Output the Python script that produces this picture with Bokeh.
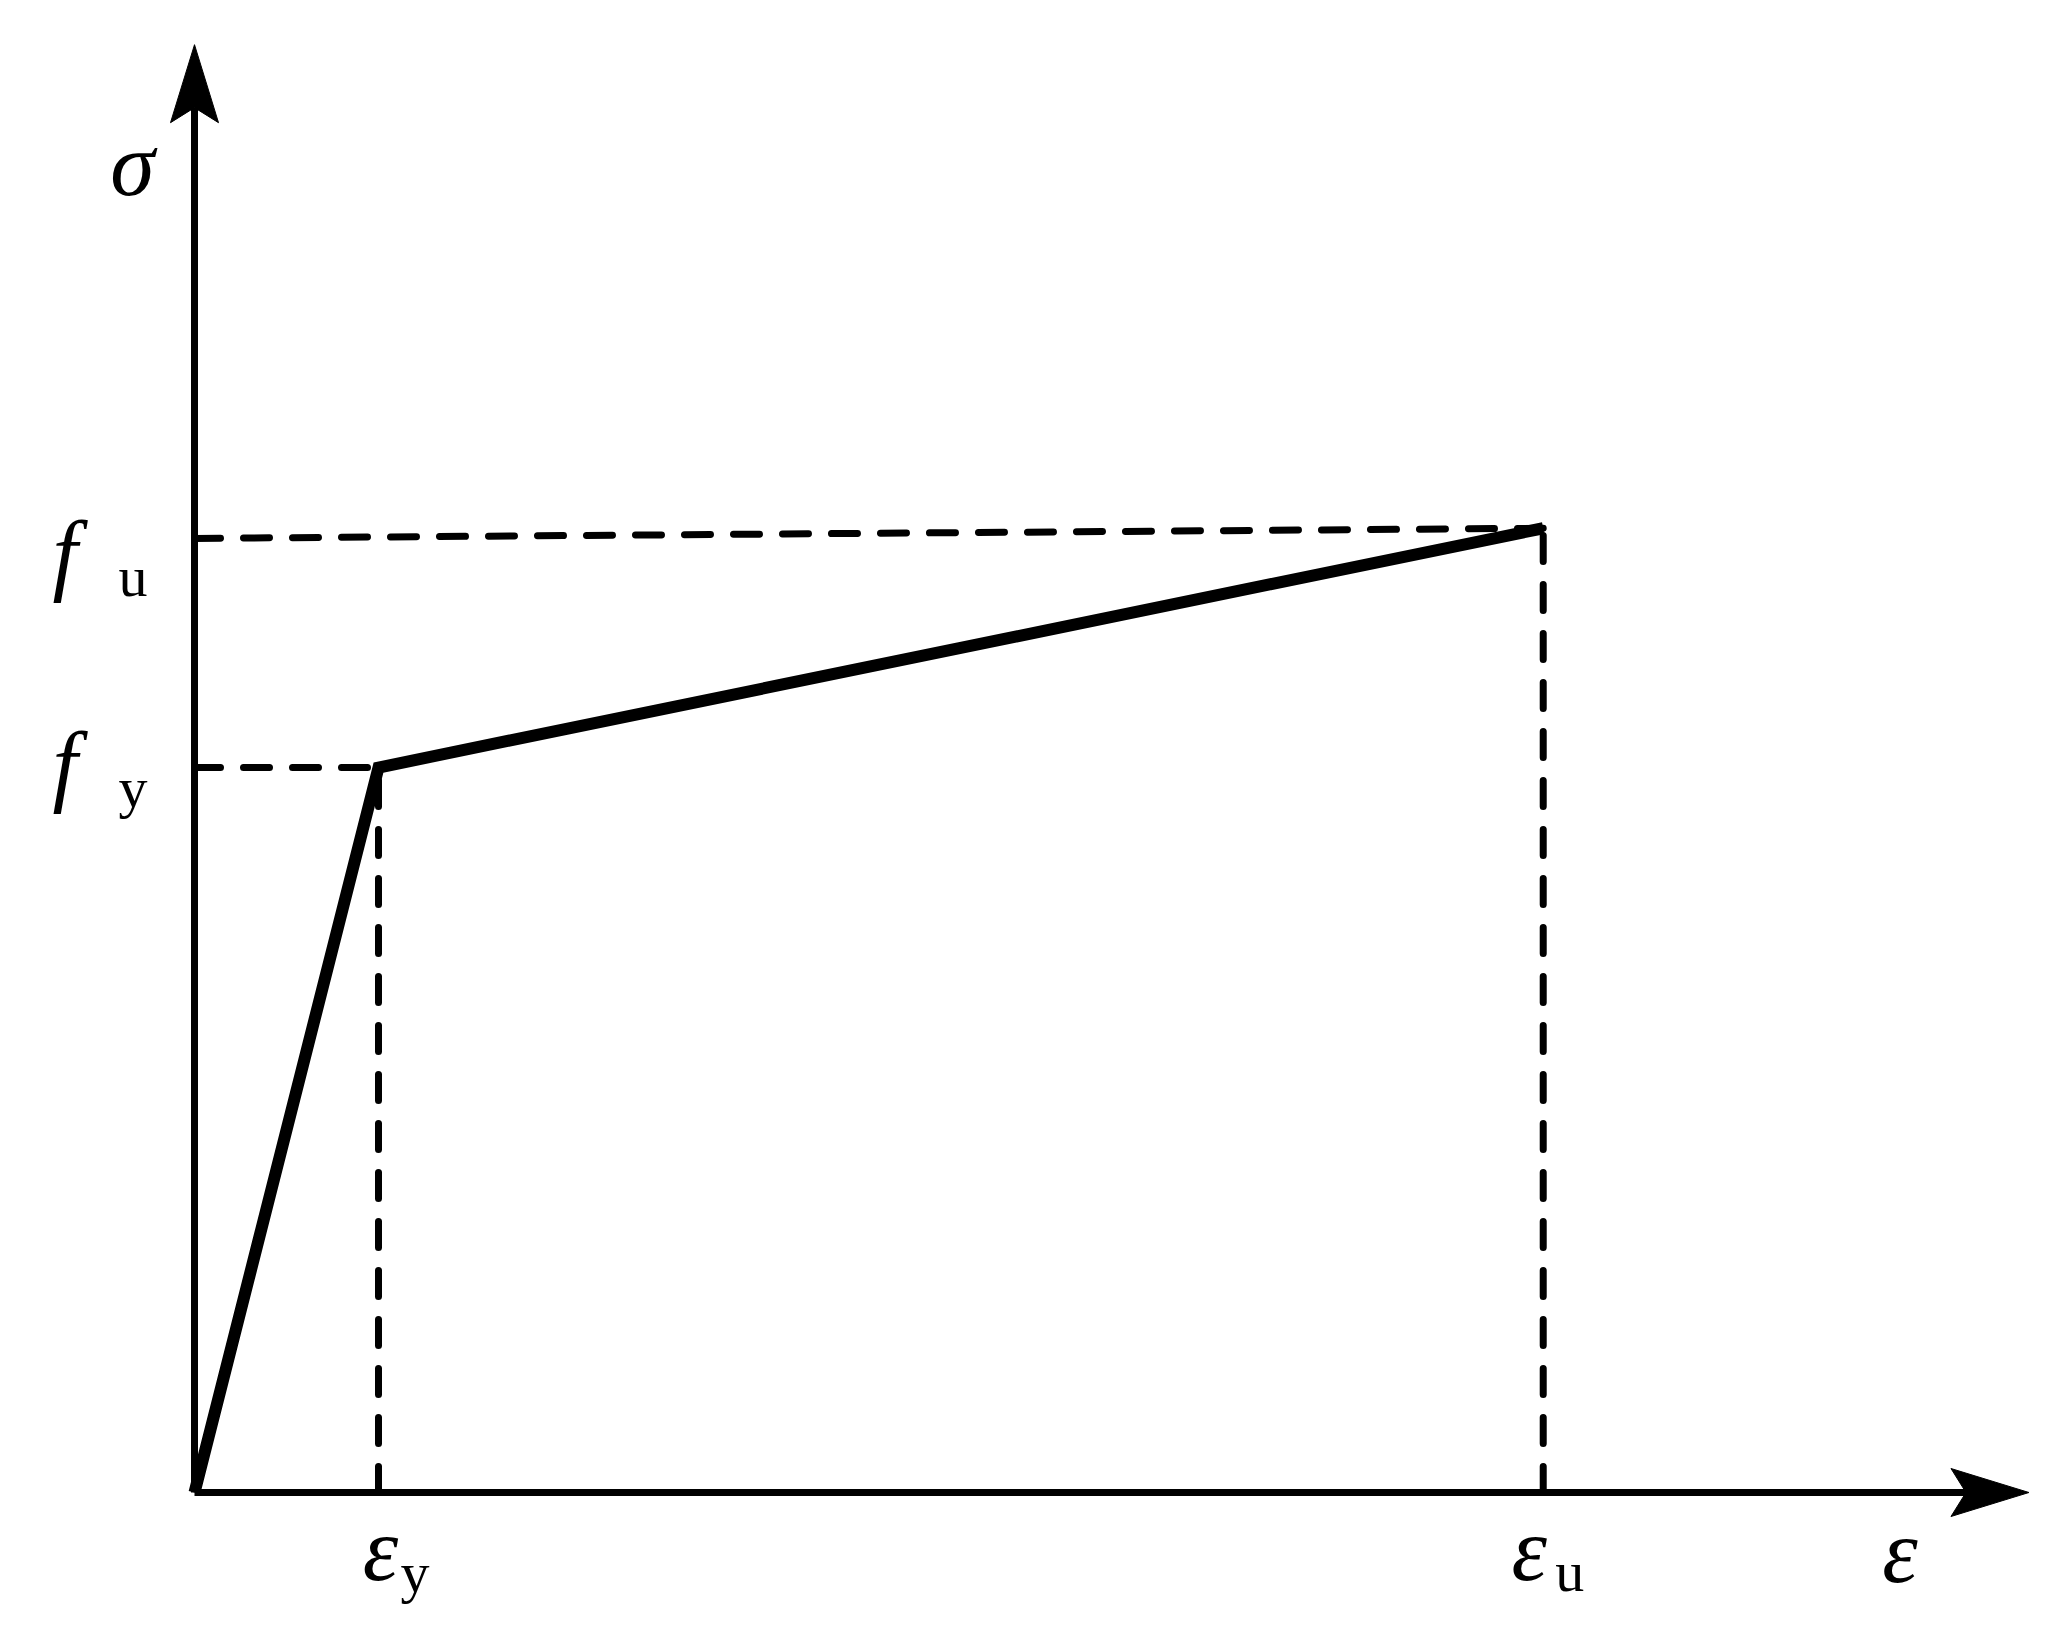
from bokeh.plotting import figure
from bokeh.models import Range1d
from bokeh.core.properties import value
from bokeh.embed import file_html
from bokeh.resources import INLINE

# ---- data (schematic bilinear stress-strain model, normalised) ----
strain = [0.0, 1.0, 7.33]      # origin, eps_y, eps_u
stress = [0.0, 1.0, 1.33]      # 0, f_y, f_u
fu_left = 1.316                # f_u reference line at the sigma axis
x_axis_end = 9.97
y_axis_end = 1.997

W, H = 2048, 1630
# pixel scale of the schematic
PX_X = 184.0   # px per strain unit
PX_Y = 725.0   # px per stress unit
ox, oy = 194.0, 138.0  # origin offset from left / bottom of the frame (px)

x0 = -ox / PX_X
x1 = (W - ox) / PX_X
y0 = -oy / PX_Y
y1 = (H - oy) / PX_Y

p = figure(width=W, height=H, output_backend="svg", toolbar_location=None,
           x_range=Range1d(x0, x1), y_range=Range1d(y0, y1),
           min_border=0, min_border_left=0, min_border_right=0,
           min_border_top=0, min_border_bottom=0)
p.axis.visible = False
p.grid.visible = False
p.outline_line_color = None
p.background_fill_color = "white"
p.border_fill_color = "white"

K = "black"
AX_W = 7
CURVE_W = 12
DASH_W = 7
DASH = "26 23"

# arrow head dimensions (px)
HL, HW, HN = 78.0, 48.0, 63.0

# axes
p.line([0, x_axis_end - HN / PX_X], [0, 0], line_color=K, line_width=AX_W)
p.line([0, 0], [0, y_axis_end - HN / PX_Y], line_color=K, line_width=AX_W)
# arrow heads
p.patch([x_axis_end, x_axis_end - HL / PX_X, x_axis_end - HN / PX_X, x_axis_end - HL / PX_X],
        [0, HW / 2 / PX_Y, 0, -HW / 2 / PX_Y], fill_color=K, line_color=K, line_width=1)
p.patch([0, HW / 2 / PX_X, 0, -HW / 2 / PX_X],
        [y_axis_end, y_axis_end - HL / PX_Y, y_axis_end - HN / PX_Y, y_axis_end - HL / PX_Y],
        fill_color=K, line_color=K, line_width=1)

# dashed reference lines
p.line([0, strain[2]], [fu_left, stress[2]], line_color=K, line_width=DASH_W,
       line_dash=DASH, line_cap="round")
p.line([0, strain[1]], [stress[1], stress[1]], line_color=K, line_width=DASH_W,
       line_dash=DASH, line_cap="round")
p.line([strain[1], strain[1]], [0, stress[1]], line_color=K, line_width=DASH_W,
       line_dash=DASH, line_cap="round")
p.line([strain[2], strain[2]], [0, stress[2]], line_color=K, line_width=DASH_W,
       line_dash=DASH, line_cap="round")

# stress-strain curve
p.line(strain, stress, line_color=K, line_width=CURVE_W, line_join="miter")

SERIF = value("Liberation Serif")
BIG = "90px"
SMALL = "58px"

def lab(x, y, t, xo, yo, size, style, align):
    p.text([x], [y], text=[t], x_offset=xo, y_offset=yo, text_font=SERIF,
           text_font_size=size, text_font_style=style, text_align=align,
           text_baseline="alphabetic", text_color=K)

# sigma / epsilon axis labels
lab(0, y_axis_end, "σ", -62, 120, BIG, "italic", "center")
lab(x_axis_end, 0, "ε", -129, 59, BIG, "italic", "center")
# f_u, f_y
lab(0, fu_left, "f", -142, 15, BIG, "italic", "left")
lab(0, fu_left, "u", -76, 38, SMALL, "normal", "left")
lab(0, stress[1], "f", -142, -3, BIG, "italic", "left")
lab(0, stress[1], "y", -76, 20, SMALL, "normal", "left")
# eps_y, eps_u
lab(strain[1], 0, "ε", 2, 57, BIG, "italic", "center")
lab(strain[1], 0, "y", 22, 80, SMALL, "normal", "left")
lab(strain[2], 0, "ε", -14, 57, BIG, "italic", "center")
lab(strain[2], 0, "u", 12, 79, SMALL, "normal", "left")

open("out.html", "w").write(file_html(p, INLINE))
